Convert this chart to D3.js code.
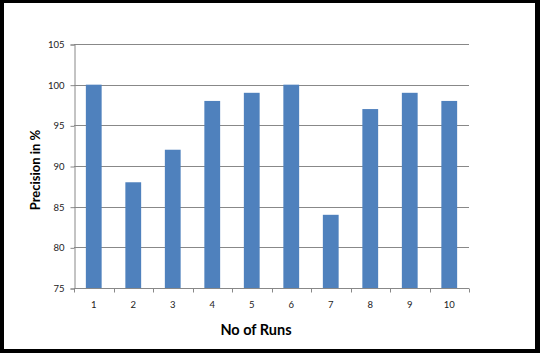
<!DOCTYPE html>
<html><head><meta charset="utf-8">
<script src="https://cdn.jsdelivr.net/npm/d3@7"></script>
<style>html,body{margin:0;padding:0;background:#fff;}svg{display:block;}</style>
</head><body>
<script>
const categories = ["1","2","3","4","5","6","7","8","9","10"];
const precision = [100, 88, 92, 98, 99, 100, 84, 97, 99, 98];
const yTicks = [75, 80, 85, 90, 95, 100, 105];
const xTitle = "No of Runs";
const yTitle = "Precision in %";

(function () {
const W = 546, H = 358;
const svg = d3.select("body").append("svg").attr("width", W).attr("height", H);
const font = "Lato, 'Liberation Sans', sans-serif";

// frame
svg.append("rect").attr("x",0).attr("y",0).attr("width",540).attr("height",353).attr("fill","#000");
svg.append("rect").attr("x",4).attr("y",3).attr("width",531).attr("height",346).attr("fill","#fff");

const pL = 74, pR = 469, pT = 44, pB = 288;
const x = d3.scaleBand().domain(categories).range([pL, pR]).paddingInner(0.6).paddingOuter(0.3);
const xb = d3.scaleBand().domain(categories).range([pL, pR]);
const y = d3.scaleLinear().domain([75, 105]).range([pB, pT]);

// gridlines
svg.append("g").selectAll("line").data(yTicks.filter(d => d > 75)).join("line")
  .attr("x1", pL).attr("x2", pR)
  .attr("y1", d => Math.round(y(d)) + 0.5).attr("y2", d => Math.round(y(d)) + 0.5)
  .attr("stroke", "#888").attr("stroke-width", 1);

// bars
svg.append("g").selectAll("rect").data(precision).join("rect")
  .attr("x", (d, i) => x(categories[i]))
  .attr("width", x.bandwidth())
  .attr("y", d => y(d))
  .attr("height", d => y(75) - y(d))
  .attr("fill", "#4f81bd");

// y axis
const yAxis = svg.append("g").attr("transform", `translate(${pL + 0.5},0.5)`)
  .call(d3.axisLeft(y).tickValues(yTicks).tickSize(4).tickPadding(6).tickFormat(d3.format("d")));
yAxis.select(".domain").attr("stroke", "#888");
yAxis.selectAll("line").attr("stroke", "#888");
yAxis.selectAll("text").attr("font-family", font).attr("font-size", 9.5).attr("fill", "#222");

// x axis
const xAxis = svg.append("g").attr("transform", `translate(0,${pB + 0.5})`);
xAxis.append("line").attr("x1", pL).attr("x2", pR).attr("stroke", "#888");
const bounds = categories.map(c => xb(c)).concat([pR]);
xAxis.selectAll("line.tk").data(bounds).join("line").attr("class","tk")
  .attr("x1", d => Math.round(d) + 0.5).attr("x2", d => Math.round(d) + 0.5)
  .attr("y1", 0).attr("y2", 4).attr("stroke", "#888");
xAxis.selectAll("text").data(categories).join("text")
  .attr("x", d => xb(d) + xb.bandwidth() / 2).attr("y", 19)
  .attr("text-anchor", "middle").attr("font-family", font).attr("font-size", 9.5).attr("fill", "#222")
  .text(d => d);

// titles
svg.append("text").attr("x", 256).attr("y", 335).attr("text-anchor", "middle")
  .attr("font-family", font).attr("font-weight", "bold").attr("font-size", 14.5).attr("fill", "#000")
  .text(xTitle);
svg.append("text").attr("transform", "translate(40,170) rotate(-90)").attr("text-anchor", "middle")
  .attr("font-family", font).attr("font-weight", "bold").attr("font-size", 13).attr("fill", "#000")
  .text(yTitle);
})();
</script>
</body></html>
